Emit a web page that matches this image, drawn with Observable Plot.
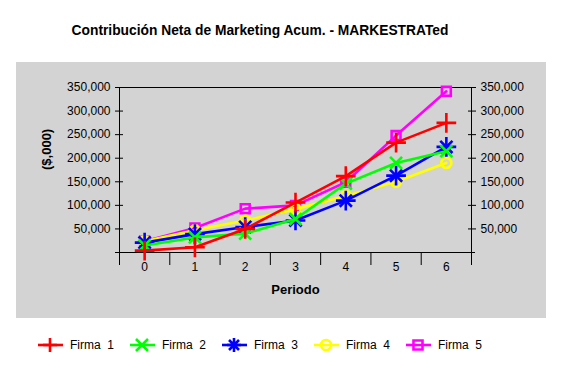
<!DOCTYPE html>
<html>
<head>
<meta charset="utf-8">
<script src="https://cdn.jsdelivr.net/npm/d3@7"></script>
<script src="https://cdn.jsdelivr.net/npm/@observablehq/plot@0.6"></script>
<style>
  html, body { margin: 0; padding: 0; background: #fff; }
  #page { position: relative; width: 562px; height: 372px; overflow: hidden; font-family: "Liberation Sans", Arial, sans-serif; }
  #title { position: absolute; left: -21px; width: 562px; top: 23px; text-align: center; font-weight: bold; font-size: 13.8px; }
  #chart { position: absolute; left: 16px; top: 62px; }
  #legend { position: absolute; top: 337px; left: 38px; display: flex; font-size: 12px; }
  .item { display: flex; align-items: center; width: 92px; }
  .item span { white-space: pre; margin-left: 7px; }
</style>
</head>
<body>
<div id="page">
  <div id="title">Contribución Neta de Marketing Acum. - MARKESTRATed</div>
  <div id="chart"></div>
  <div id="legend"></div>
</div>
<script>
const periods = [0, 1, 2, 3, 4, 5, 6];
const yTicks = [50000, 100000, 150000, 200000, 250000, 300000, 350000];
const seriesNames = ["Firma  1", "Firma  2", "Firma  3", "Firma  4", "Firma  5"];
const seriesColors = ["#ff0000", "#00ff00", "#0000ff", "#ffff00", "#ff00ff"];
const firma1 = [4000, 11000, 50000, 106000, 162000, 233000, 275000];
const firma2 = [15000, 32000, 40000, 71000, 146000, 190000, 215000];
const firma3 = [21000, 39000, 54000, 68000, 110000, 163000, 224000];
const firma4 = [24000, 47000, 68000, 92000, 120000, 150000, 190000];
const firma5 = [24000, 52000, 93000, 100000, 149000, 248000, 342000];
const seriesValues = [firma1, firma2, firma3, firma4, firma5];

// marker definitions per series: list of [symbol, r]
const markerDefs = [
  [["plus", 6.4]],
  [["times", 5.5]],
  [["plus", 6.4], ["times", 5.6]],
  [["circle", 5]],
  [["square", 5]]
];

const data = seriesValues.map((vals, i) => periods.map((p, j) => ({periodo: p, valor: vals[j], firma: seriesNames[i], idx: i})));

const seriesMarks = [];
for (let i = seriesValues.length - 1; i >= 0; i--) {
  const d = data[i];
  seriesMarks.push(Plot.line(d, {x: "periodo", y: "valor", stroke: seriesColors[i], strokeWidth: 2.6}));
  for (const [sym, r] of markerDefs[i]) {
    seriesMarks.push(Plot.dot(d, {x: "periodo", y: "valor", symbol: () => sym, r, stroke: seriesColors[i], strokeWidth: 2.6, fill: "none"}));
  }
}

const boundaries = d3.range(-0.5, 7, 1);

const chart = Plot.plot({
  width: 530,
  height: 256,
  marginLeft: 103,
  marginRight: 75,
  marginTop: 25,
  marginBottom: 66,
  style: {background: "#d3d3d3", fontFamily: "Liberation Sans, Arial, sans-serif", fontSize: "12px", color: "#000", overflow: "visible"},
  x: {type: "linear", domain: [-0.5, 6.5]},
  y: {type: "linear", domain: [0, 350000]},
  symbol: {type: "identity"},
  marks: [
    Plot.frame({stroke: "#000", strokeWidth: 1}),
    Plot.axisX({ticks: boundaries, tickSize: 13, tickFormat: () => "", label: null, strokeOpacity: 1}),
    Plot.axisX({ticks: periods, tickSize: 0, tickPadding: 10, tickFormat: d => String(d), label: null}),
    Plot.axisY({anchor: "left", ticks: yTicks, tickSize: 8, dx: 4, tickPadding: 5, tickFormat: d3.format(","), label: null, strokeOpacity: 1}),
    Plot.axisY({anchor: "right", ticks: yTicks, tickSize: 8, dx: -4, tickPadding: 5, tickFormat: d3.format(","), label: null, strokeOpacity: 1}),
    Plot.ruleY([0], {stroke: "#000", insetLeft: -4, insetRight: -4}),
    Plot.text(["Periodo"], {frameAnchor: "bottom", dy: 41, fontWeight: "bold", fontSize: 13}),
    Plot.text(["($,000)"], {frameAnchor: "left", dx: -73, rotate: -90, fontWeight: "bold", fontSize: 13}),
    ...seriesMarks
  ]
});
document.getElementById("chart").appendChild(chart);

// legend
const legend = document.getElementById("legend");
const symbolPaths = {
  plus: "M-7,0H7M0,-7V7",
  times: "M-6,-6L6,6M-6,6L6,-6",
  star: "M-7,0H7M0,-7V7M-5,-5L5,5M-5,5L5,-5",
  circle: null,
  square: "M-4.5,-4.5H4.5V4.5H-4.5Z"
};
const legendSyms = ["plus", "times", "star", "circle", "square"];
seriesNames.forEach((name, i) => {
  const item = document.createElement("div");
  item.className = "item";
  const c = seriesColors[i];
  let marker = legendSyms[i] === "circle"
    ? `<circle cx="12" cy="8" r="5" fill="none" stroke="${c}" stroke-width="2.6"/>`
    : `<path transform="translate(12,8)" d="${symbolPaths[legendSyms[i]]}" fill="none" stroke="${c}" stroke-width="2.6"/>`;
  item.innerHTML = `<svg width="25" height="16"><line x1="0" x2="25" y1="8" y2="8" stroke="${c}" stroke-width="2.6"/>${marker}</svg><span>${name}</span>`;
  legend.appendChild(item);
});
</script>
</body>
</html>
